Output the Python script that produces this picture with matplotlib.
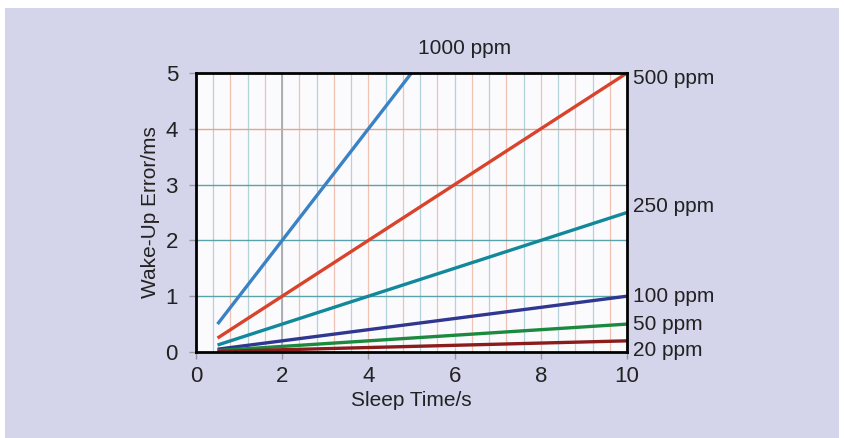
import matplotlib
matplotlib.use("Agg")
import matplotlib.pyplot as plt
from matplotlib.patches import Rectangle
import numpy as np

plt.rcParams['font.family'] = ['Liberation Sans', 'DejaVu Sans']

# Data: sleep time (s) and wake-up error (ms) for each clock drift
labels = ["1000 ppm", "500 ppm", "250 ppm", "100 ppm", "50 ppm", "20 ppm"]
x_1000 = [0.5, 5.0]
y_1000 = [0.5, 5.0]
x_500 = [0.5, 10.0]
y_500 = [0.25, 5.0]
x_250 = [0.5, 10.0]
y_250 = [0.125, 2.5]
x_100 = [0.5, 10.0]
y_100 = [0.05, 1.0]
x_50 = [0.5, 10.0]
y_50 = [0.025, 0.5]
x_20 = [0.5, 10.0]
y_20 = [0.01, 0.2]
colors = ["#3b82c4", "#d9432b", "#11899b", "#2f3790", "#1b8a3e", "#8a1c1c"]

xticks = [0, 2, 4, 6, 8, 10]
yticks = [0, 1, 2, 3, 4, 5]

fig = plt.figure(figsize=(8.44, 4.38), dpi=100)
fig.patch.set_facecolor("white")
fig.patches.append(Rectangle((5/844, 0), 834/844, 1 - 8/438, transform=fig.transFigure,
                             facecolor="#d4d4ea", edgecolor="none", zorder=-10))

ax = fig.add_axes([196/844, 1 - 352/438, 431/844, 279/438])
ax.set_facecolor("#fbfbfe")
ax.set_xlim(0, 10)
ax.set_ylim(0, 5)

# grid
for i, gx in enumerate(np.arange(0.4, 10, 0.4)):
    c = "#b3d2d9" if i % 2 == 0 else "#efc3b4"
    ax.axvline(gx, color=c, lw=0.9, zorder=1)
ax.axvline(2, color="#a8acaf", lw=1.3, zorder=1)
for gy, c in zip([1, 2, 3, 4], ["#5aa3aa", "#5aa3aa", "#5aa3aa", "#e6a68c"]):
    ax.axhline(gy, color=c, lw=1.0, zorder=1)

xs = [x_1000, x_500, x_250, x_100, x_50, x_20]
ys = [y_1000, y_500, y_250, y_100, y_50, y_20]
for xv, yv, c in zip(xs, ys, colors):
    ax.plot(xv, yv, color=c, lw=2.4, solid_capstyle="butt", zorder=3, clip_on=False)

for s in ax.spines.values():
    s.set_linewidth(2)
    s.set_color("black")
    s.set_zorder(5)

ax.set_xticks(xticks)
ax.set_yticks(yticks)
ax.tick_params(axis="both", direction="out", length=5, width=1, color="#999999",
               labelsize=16, labelcolor="#222222")
ax.tick_params(axis="x", pad=5)
ax.tick_params(axis="y", pad=8)
ax.set_xlabel("Sleep Time/s", fontsize=15, color="#222222", labelpad=3)
ax.set_ylabel("Wake-Up Error/ms", fontsize=15, color="#222222", labelpad=4)

# right side labels
ax.text(6.24, 5.27, labels[0], fontsize=15, color="#222222", ha="center", va="bottom")
label_y = [4.9, 2.6, 1.0, 0.5, 0.03]
for lab, yy in zip(labels[1:], label_y):
    ax.text(10.14, yy, lab, fontsize=15, color="#222222", ha="left", va="center")

fig.savefig("out.png", dpi=100)
